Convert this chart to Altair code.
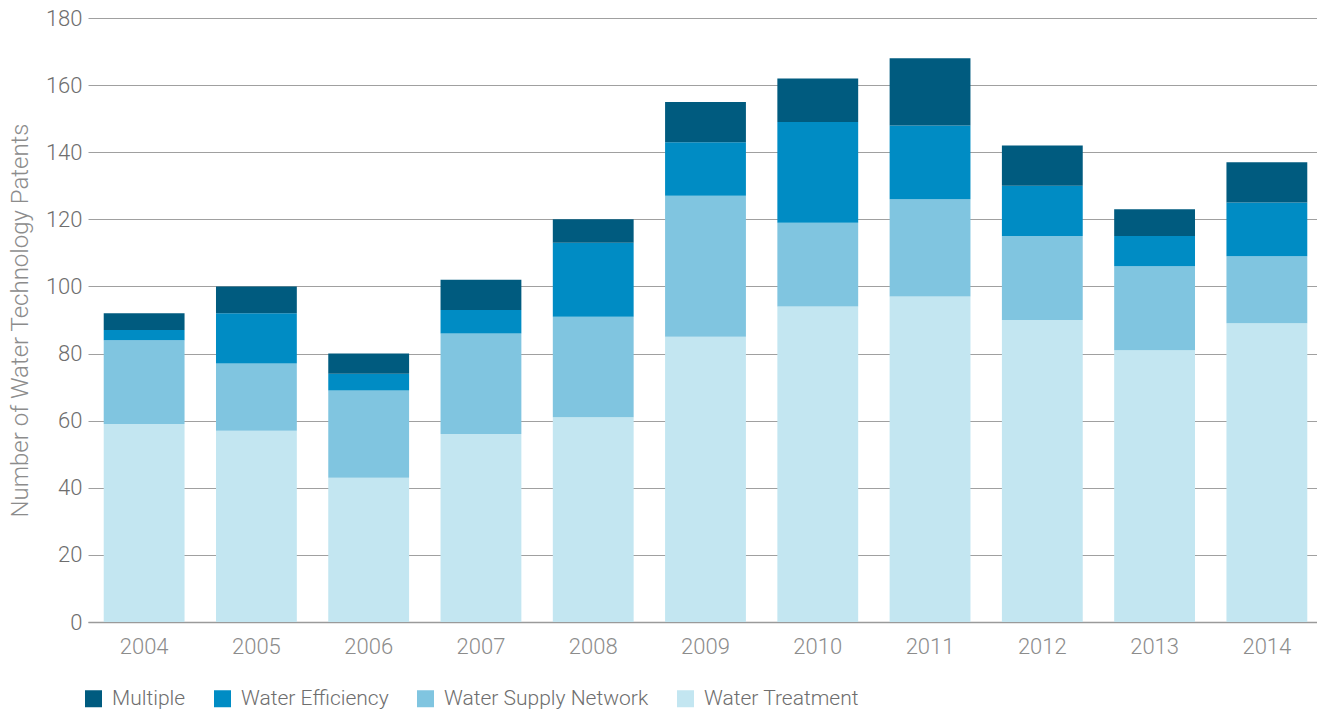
import altair as alt
import pandas as pd

years = ["2004", "2005", "2006", "2007", "2008", "2009", "2010", "2011", "2012", "2013", "2014"]
treatment = [59, 57, 43, 56, 61, 85, 94, 97, 90, 81, 89]
supply = [25, 20, 26, 30, 30, 42, 25, 29, 25, 25, 20]
efficiency = [3, 15, 5, 7, 22, 16, 30, 22, 15, 9, 16]
multiple = [5, 8, 6, 9, 7, 12, 13, 20, 12, 8, 12]

categories = ["Multiple", "Water Efficiency", "Water Supply Network", "Water Treatment"]
colors = ["#005b7f", "#008cc4", "#80c5e0", "#c3e6f1"]

rows = []
for i, y in enumerate(years):
    for cat, vals, order in [("Water Treatment", treatment, 0), ("Water Supply Network", supply, 1),
                             ("Water Efficiency", efficiency, 2), ("Multiple", multiple, 3)]:
        rows.append({"year": y, "category": cat, "value": vals[i], "order": order})
df = pd.DataFrame(rows)

font = "Roboto"

chart = alt.Chart(df).mark_bar().encode(
    x=alt.X("year:N", sort=years, title=None,
            scale=alt.Scale(paddingInner=0.28, paddingOuter=0.14, range=[0, 1235]),
            axis=alt.Axis(labelAngle=0, labelFontSize=22, labelColor="#8c8c8c", labelFont=font,
                          labelFontWeight=300, labelPadding=14, ticks=False,
                          domainColor="#9a9a9a", domainWidth=1.5)),
    y=alt.Y("value:Q", stack="zero", title="Number of Water Technology Patents",
            scale=alt.Scale(domain=[0, 180]),
            axis=alt.Axis(values=list(range(0, 181, 20)), labelFontSize=22, labelColor="#6e6e6e",
                          labelFont=font, labelFontWeight=300, labelPadding=6, ticks=False,
                          domain=False, gridColor="#a0a0a0", gridWidth=1,
                          titleFontSize=24, titleColor="#8c8c8c", titleFont=font,
                          titleFontWeight=300, titleY=302, titleX=-56)),
    color=alt.Color("category:N", sort=categories,
                    scale=alt.Scale(domain=categories, range=colors),
                    legend=alt.Legend(title=None, orient="none", direction="horizontal",
                                      legendX=-5, legendY=670, symbolType="square", symbolSize=289,
                                      symbolStrokeWidth=0, labelFontSize=21, labelColor="#6e6e6e",
                                      labelFont=font, labelFontWeight=300, columnPadding=26,
                                      labelOffset=8, labelLimit=400)),
    order=alt.Order("order:Q"),
).properties(
    width=1229, height=604,
    padding={"left": 80, "top": 10, "right": 0, "bottom": 87},
    autosize=alt.AutoSizeParams(type="none"),
).configure_view(stroke=None)

chart.save("out.html", embed_options={"renderer": "svg", "actions": False})
